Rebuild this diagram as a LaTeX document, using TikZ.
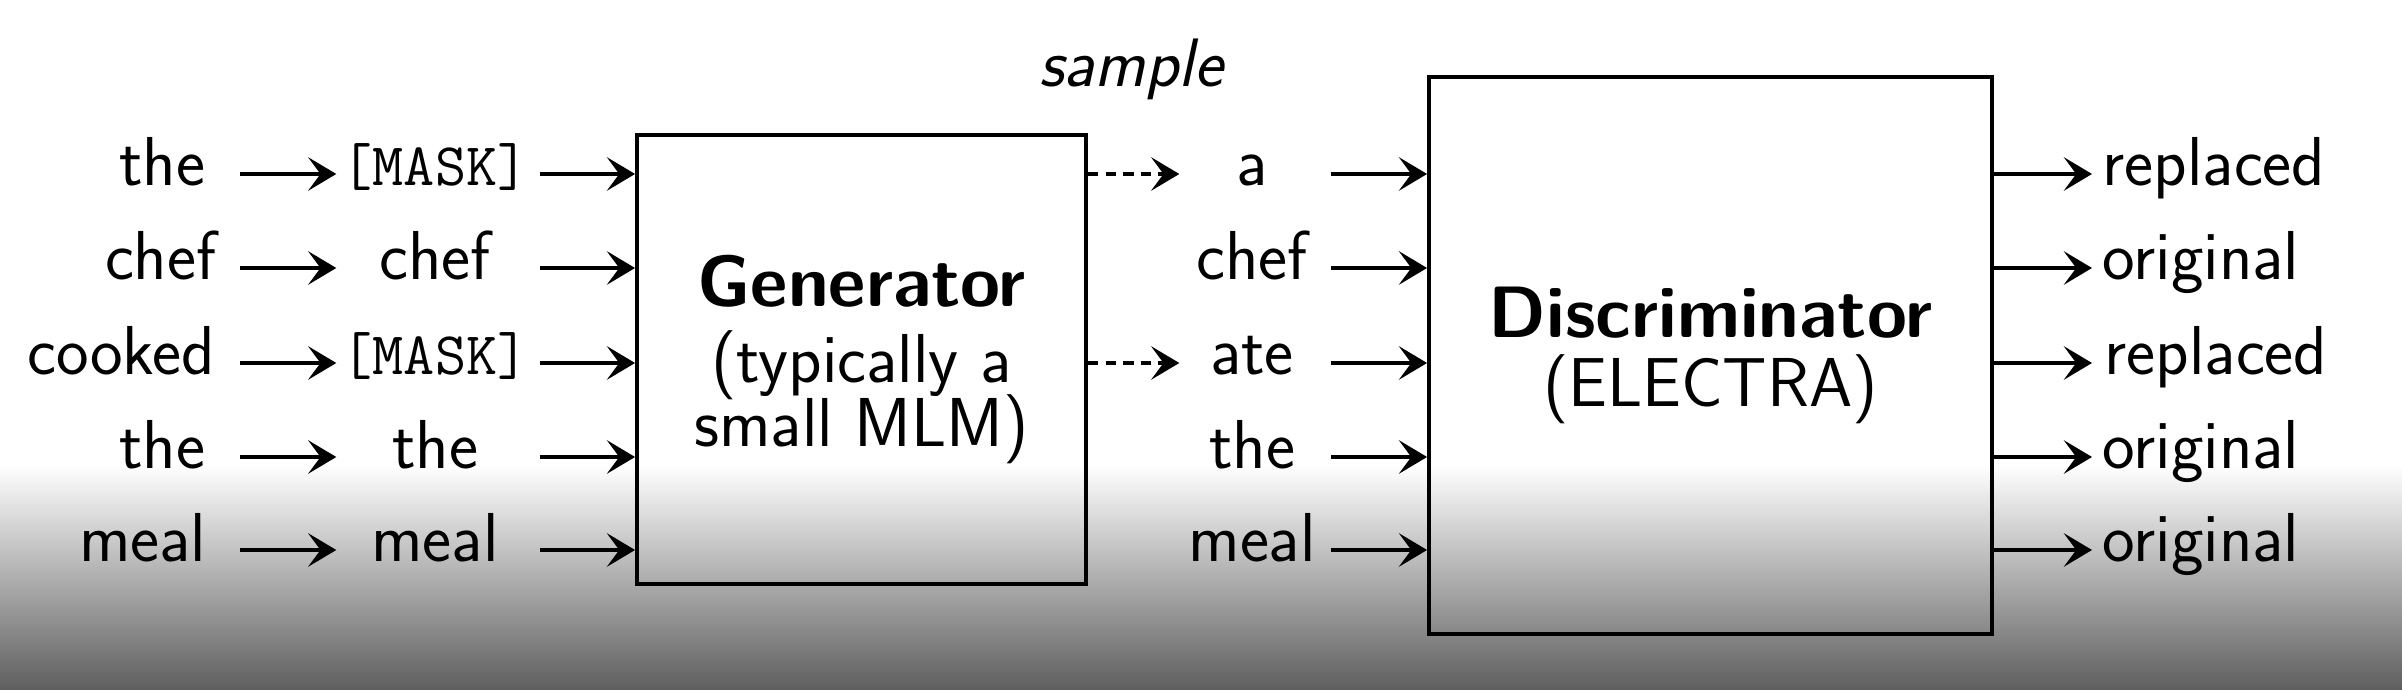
\documentclass[tikz,border=0pt]{standalone}
\usetikzlibrary{arrows.meta}
\newcommand{\tightlines}{\lineskiplimit=-20pt\relax}
\begin{document}
\begin{tikzpicture}[
	font=\sffamily\fontsize{19.7}{21}\selectfont,
	word/.style={inner sep=0pt, text height=10pt, text depth=3.2pt},
	tok/.style={word, minimum width=1.96cm},
	mtok/.style={font=\ttfamily\fontsize{17.2}{19}\selectfont},
	stok/.style={word, minimum width=1.44cm},
	arr/.style={line width=1.3pt, -{Stealth[length=8pt,width=9.5pt,inset=3.5pt]}},
	dasharr/.style={arr, dash pattern=on 3pt off 2pt},
	block/.style={draw, line width=1.1pt, inner sep=0pt, align=center}
	]
	\useasboundingbox (0,0) rectangle (24.02,6.90);
	\fill[white] (0,0) rectangle (24.02,6.90);
	\shade[top color=white, bottom color=black!63] (0,0) rectangle (24.02,2.25);
	% boxes
	\node[block, minimum width=4.49cm, minimum height=4.49cm,
		font=\sffamily\fontsize{19.7}{18}\selectfont\tightlines] (gen) at (8.615,3.305)
		{{\bfseries\fontsize{20.7}{18}\selectfont Generator}\\[3.6pt](typically a\\small MLM)};
	\node[block, minimum width=5.63cm, minimum height=5.57cm,
		font=\sffamily\fontsize{19.7}{19.8}\selectfont\tightlines] (dis) at (17.105,3.345)
		{{\bfseries\fontsize{20.7}{19.8}\selectfont Discriminator}\\(ELECTRA)};
	\node[font=\sffamily\itshape\fontsize{19.5}{21}\selectfont] (smp) at (11.31,6.21) {sample};
	% input words
	\node[word, anchor=east] (w1) at (2.06,5.16) {the};
	\node[word, anchor=east] (w2) at (2.17,4.22) {chef};
	\node[word, anchor=east] (w3) at (2.16,3.27) {cooked};
	\node[word, anchor=east] (w4) at (2.06,2.33) {the};
	\node[word, anchor=east] (w5) at (2.07,1.40) {meal};
	% masked input
	\node[tok, mtok] (m1) at (4.35,5.16) {[MASK]};
	\node[tok] (m2) at (4.35,4.22) {chef};
	\node[tok, mtok] (m3) at (4.35,3.27) {[MASK]};
	\node[tok] (m4) at (4.35,2.33) {the};
	\node[tok] (m5) at (4.35,1.40) {meal};
	% sampled words
	\node[stok] (s1) at (12.52,5.16) {a};
	\node[stok] (s2) at (12.52,4.22) {chef};
	\node[stok] (s3) at (12.52,3.27) {ate};
	\node[stok] (s4) at (12.52,2.33) {the};
	\node[stok] (s5) at (12.52,1.40) {meal};
	% outputs
	\node[word, anchor=west] (o1) at (21.02,5.16) {replaced};
	\node[word, anchor=west] (o2) at (21.02,4.22) {original};
	\node[word, anchor=west] (o3) at (21.04,3.27) {replaced};
	\node[word, anchor=west] (o4) at (21.02,2.33) {original};
	\node[word, anchor=west] (o5) at (21.02,1.40) {original};
	% arrows
	\draw[arr, shorten <=0.34cm] (w1) -- (m1);
	\draw[arr, shorten <=0.23cm] (w2) -- (m2);
	\draw[arr, shorten <=0.24cm] (w3) -- (m3);
	\draw[arr, shorten <=0.34cm] (w4) -- (m4);
	\draw[arr, shorten <=0.33cm] (w5) -- (m5);
	\draw[arr, shorten <=0.06cm] (m1) -- (m1 -| gen.west);
	\draw[arr, shorten <=0.06cm] (m2) -- (m2 -| gen.west);
	\draw[arr, shorten <=0.06cm] (m3) -- (m3 -| gen.west);
	\draw[arr, shorten <=0.06cm] (m4) -- (m4 -| gen.west);
	\draw[arr, shorten <=0.06cm] (m5) -- (m5 -| gen.west);
	\draw[dasharr] (s1 -| gen.east) -- (s1);
	\draw[dasharr] (s3 -| gen.east) -- (s3);
	\draw[arr, shorten <=0.06cm] (s1) -- (s1 -| dis.west);
	\draw[arr, shorten <=0.06cm] (s2) -- (s2 -| dis.west);
	\draw[arr, shorten <=0.06cm] (s3) -- (s3 -| dis.west);
	\draw[arr, shorten <=0.06cm] (s4) -- (s4 -| dis.west);
	\draw[arr, shorten <=0.06cm] (s5) -- (s5 -| dis.west);
	\draw[arr, shorten >=0.10cm] (o1 -| dis.east) -- (o1);
	\draw[arr, shorten >=0.10cm] (o2 -| dis.east) -- (o2);
	\draw[arr, shorten >=0.12cm] (o3 -| dis.east) -- (o3);
	\draw[arr, shorten >=0.10cm] (o4 -| dis.east) -- (o4);
	\draw[arr, shorten >=0.10cm] (o5 -| dis.east) -- (o5);
\end{tikzpicture}
\end{document}
